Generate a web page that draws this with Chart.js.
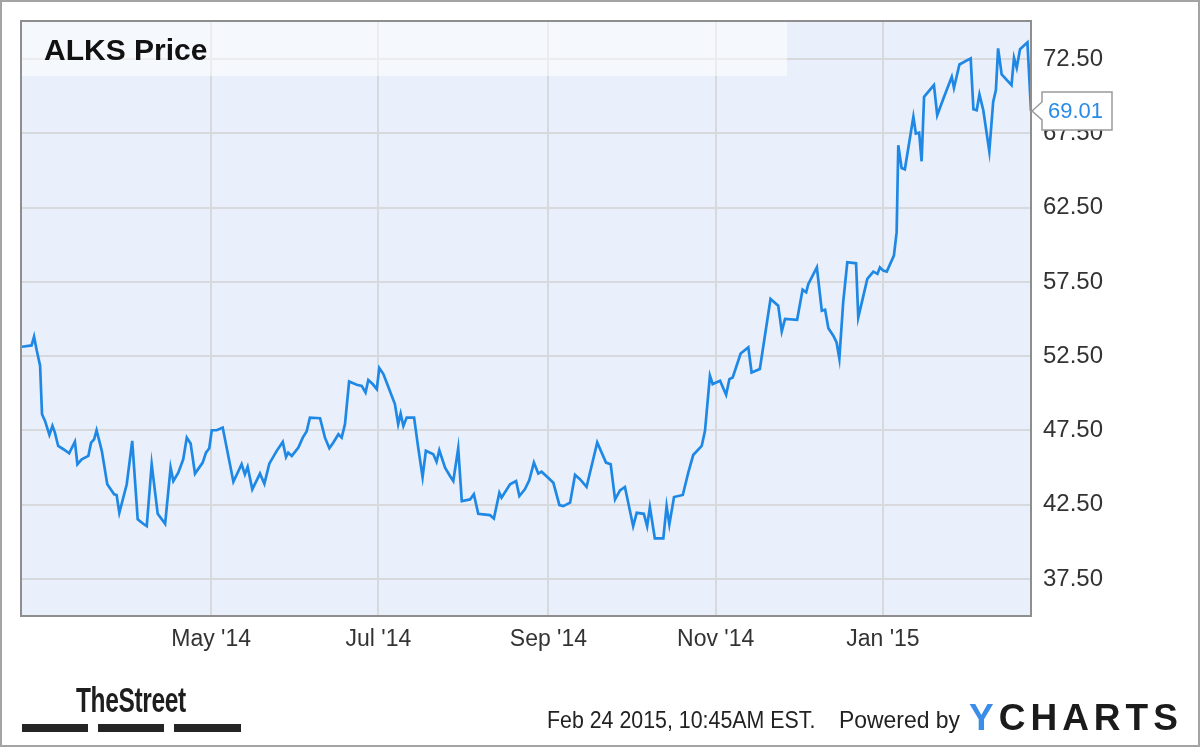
<!DOCTYPE html>
<html>
<head>
<meta charset="utf-8">
<script src="https://cdn.jsdelivr.net/npm/chart.js@4.4.1/dist/chart.umd.min.js"></script>
<style>
  html, body { margin: 0; padding: 0; background: #fff; }
  #wrap { position: relative; width: 1200px; height: 747px; overflow: hidden; background: #fff; font-family: "Liberation Sans", Arial, sans-serif; }
  #c { position: absolute; left: 0; top: 0; }
  #frame { position: absolute; left: 0; top: 0; width: 1200px; height: 747px; box-sizing: border-box; border: 2px solid #a4a4a4; pointer-events: none; }
  .t { position: absolute; white-space: nowrap; line-height: 1; }
  #title { left: 44px; top: 35px; font-size: 30px; font-weight: bold; color: #111; }
  #street { left: 76px; top: 682px; font-size: 35px; font-weight: bold; color: #1e1e1e; transform: scaleX(0.70); transform-origin: 0 0; letter-spacing: -0.5px; }
  .bar { position: absolute; top: 724px; height: 8px; background: #252525; }
  #stamp { left: 547px; top: 708px; font-size: 24px; color: #222; transform: scaleX(0.89); transform-origin: 0 0; }
  #powered { left: 839px; top: 708px; font-size: 24px; color: #222; transform: scaleX(0.955); transform-origin: 0 0; }
  #ych { left: 969px; top: 699px; font-size: 37px; font-weight: bold; color: #1b1b1b; letter-spacing: 5px; }
  #ych span { color: #3b8de8; }
</style>
</head>
<body>
<div id="wrap">
  <canvas id="c" width="1200" height="747" style="width:1200px;height:747px"></canvas>
  <div class="t" id="title">ALKS Price</div>
  <div class="t" id="street">TheStreet</div>
  <div class="bar" style="left:22px;width:66px"></div>
  <div class="bar" style="left:98px;width:66px"></div>
  <div class="bar" style="left:174px;width:67px"></div>
  <div class="t" id="stamp">Feb 24 2015, 10:45AM EST.</div>
  <div class="t" id="powered">Powered by</div>
  <div class="t" id="ych"><span>Y</span>CHARTS</div>
  <div id="frame"></div>
</div>
<script>
// Days since 2014-02-21
const days = [0,3.5,4.4,5.4,6.6,7.3,8.4,10.0,11.1,12.0,13.2,15.1,17.2,19.3,20.2,21.8,24.2,25.2,26.3,27.2,29.1,31.1,33.6,34.5,35.5,38.2,40.2,42.2,44.2,45.5,47.3,49.5,52.2,54.2,55.2,57.0,58.8,60.1,61.5,63.1,65.9,67.1,68.3,69.2,71.0,73.2,77.1,80.1,81.3,82.3,84.0,86.8,88.4,90.2,92.9,95.1,96.3,97.1,98.4,100.8,102.4,103.8,105.0,108.7,110.5,112.1,113.5,115.4,116.6,117.8,119.3,122.1,123.9,125.3,126.3,127.9,129.4,130.3,131.8,133.2,136.0,137.2,138.1,139.1,140.3,143.0,144.5,146.1,147.3,150.0,151.2,152.2,154.3,156.1,157.3,159.1,160.4,163.4,164.8,166.4,168.2,170.7,172.1,174.1,174.9,178.0,180.2,181.4,183.4,185.0,186.7,188.3,189.5,191.9,193.8,196.0,197.4,199.9,201.7,203.5,205.9,209.8,213.0,214.7,216.3,218.1,219.9,222.9,224.2,226.8,228.0,229.0,230.8,233.9,235.1,236.1,237.8,241.0,243.0,244.8,247.9,249.1,250.9,251.9,254.6,256.8,258.0,259.2,262.1,264.9,266.1,269.1,273.0,275.8,277.1,278.3,282.7,284.7,286.0,286.8,289.9,291.7,292.9,294.1,295.9,297.1,298.1,299.5,301.0,304.2,305.0,306.3,308.3,310.5,312.0,312.9,314.1,315.4,318.0,319.0,319.6,320.8,322.0,325.1,326.0,327.2,328.1,329.0,332.6,333.8,336.3,339.1,339.9,341.9,346.0,347.0,348.2,349.2,350.6,352.8,354.2,355.2,356.0,357.3,360.9,361.8,362.8,364.0,366.7,368];
const prices = [53.13,53.22,53.81,52.86,51.85,48.59,48.14,47.2,47.8,47.35,46.45,46.23,45.96,46.74,45.22,45.55,45.78,46.67,46.9,47.51,46.12,43.87,43.2,43.15,41.95,43.87,46.79,41.51,41.21,41.05,45.22,41.88,41.21,44.99,44.09,44.65,45.55,47.01,46.61,44.59,45.33,46.0,46.3,47.51,47.51,47.69,44.04,45.22,44.54,45.04,43.53,44.59,43.91,45.26,46.12,46.72,45.71,46.0,45.78,46.34,47.01,47.42,48.36,48.32,47.01,46.3,46.67,47.24,47.01,47.92,50.79,50.57,50.5,50.05,50.89,50.62,50.28,51.7,51.29,50.62,49.27,47.92,48.63,47.8,48.36,48.36,46.34,44.36,46.12,45.89,45.39,46.16,44.99,44.43,44.09,46.3,42.74,42.85,43.2,41.88,41.84,41.79,41.57,43.3,42.97,43.87,44.09,43.08,43.53,44.14,45.33,44.59,44.72,44.31,43.97,42.47,42.4,42.63,44.5,44.21,43.69,46.68,45.33,45.22,42.85,43.46,43.69,41.05,41.95,41.88,41.05,42.34,40.23,40.23,42.4,41.17,43.01,43.15,44.65,45.84,46.45,47.47,51.18,50.62,50.84,49.89,50.95,51.06,52.68,53.09,51.4,51.63,56.35,55.9,54.17,55.0,54.95,56.98,56.8,57.36,58.48,55.56,55.63,54.37,53.88,53.42,52.34,56.12,58.82,58.75,55.11,56.12,57.7,58.19,58.04,58.48,58.26,58.19,59.27,60.85,66.7,65.17,65.08,68.61,67.49,67.55,65.62,69.96,70.75,68.72,69.96,71.31,70.56,72.14,72.55,69.13,69.06,70.12,69.06,66.29,69.62,70.41,73.22,71.47,70.75,72.59,71.91,73.17,73.63,69.01];
const monthTicks = [69, 130, 192, 253, 314];
const monthLabels = ["May '14", "Jul '14", "Sep '14", "Nov '14", "Jan '15"];
const priceTicks = [37.5, 42.5, 47.5, 52.5, 57.5, 62.5, 67.5, 72.5];
const lastLabel = "69.01";

const points = days.map((d, i) => ({ x: d, y: prices[i] }));

const decor = {
  id: 'decor',
  beforeDraw(chart) {
    const { ctx, chartArea: a } = chart;
    ctx.save();
    ctx.fillStyle = '#eaf0fb';
    ctx.fillRect(a.left, a.top, a.right - a.left, a.bottom - a.top);
    ctx.restore();
  },
  beforeDatasetsDraw(chart) {
    const { ctx, chartArea: a } = chart;
    ctx.save();
    ctx.fillStyle = 'rgba(255,255,255,0.5)';
    ctx.fillRect(a.left, a.top, 787 - a.left, 54);
    ctx.restore();
  },
  afterDraw(chart) {
    const { ctx, chartArea: a, scales } = chart;
    ctx.save();
    ctx.strokeStyle = '#8e8e8e';
    ctx.lineWidth = 2;
    ctx.strokeRect(a.left - 1, a.top - 1, a.right - a.left + 1, a.bottom - a.top + 1);
    // callout
    const px = scales.x.getPixelForValue(days[days.length - 1]);
    const py = scales.y.getPixelForValue(prices[prices.length - 1]);
    const bx = px + 11, bw = 70, top = py - 19, bot = py + 19;
    ctx.beginPath();
    ctx.moveTo(px + 1, py);
    ctx.lineTo(bx, py - 9);
    ctx.lineTo(bx, top);
    ctx.lineTo(bx + bw, top);
    ctx.lineTo(bx + bw, bot);
    ctx.lineTo(bx, bot);
    ctx.lineTo(bx, py + 9);
    ctx.closePath();
    ctx.fillStyle = '#ffffff';
    ctx.fill();
    ctx.strokeStyle = '#9a9a9a';
    ctx.lineWidth = 1.5;
    ctx.stroke();
    ctx.fillStyle = '#2a8ae6';
    ctx.font = '22px "Liberation Sans", Arial, sans-serif';
    ctx.textBaseline = 'middle';
    ctx.textAlign = 'left';
    ctx.fillText(lastLabel, bx + 6, py + 1);
    ctx.restore();
  }
};

new Chart(document.getElementById('c'), {
  type: 'line',
  data: {
    datasets: [{
      data: points,
      borderColor: '#1f88e5',
      borderWidth: 2.7,
      pointRadius: 0,
      tension: 0,
      fill: false
    }]
  },
  options: {
    responsive: false,
    animation: false,
    devicePixelRatio: 1,
    layout: { padding: { left: 22, top: 22, right: 0, bottom: 0 } },
    plugins: { legend: { display: false }, tooltip: { enabled: false }, title: { display: false } },
    scales: {
      x: {
        type: 'linear',
        min: 0,
        max: 368,
        afterBuildTicks: s => { s.ticks = monthTicks.map(v => ({ value: v })); },
        afterFit: s => { s.height = 131; s.paddingLeft = 0; s.paddingRight = 0; },
        ticks: {
          autoSkip: false,
          maxRotation: 0,
          padding: 10,
          color: '#333',
          font: { family: '"Liberation Sans", Arial, sans-serif', size: 23 },
          callback: v => monthLabels[monthTicks.indexOf(v)]
        },
        grid: { color: '#d8d9dc', lineWidth: 2, drawTicks: false },
        border: { display: false }
      },
      y: {
        position: 'right',
        min: 35,
        max: 75,
        afterBuildTicks: s => { s.ticks = priceTicks.map(v => ({ value: v })); },
        afterFit: s => { s.width = 169; s.paddingTop = 0; s.paddingBottom = 0; },
        ticks: {
          padding: 12,
          color: '#333',
          font: { family: '"Liberation Sans", Arial, sans-serif', size: 24 },
          callback: v => Number(v).toFixed(2)
        },
        grid: { color: '#d8d9dc', lineWidth: 2, drawTicks: false },
        border: { display: false }
      }
    }
  },
  plugins: [decor]
});
</script>
</body>
</html>
